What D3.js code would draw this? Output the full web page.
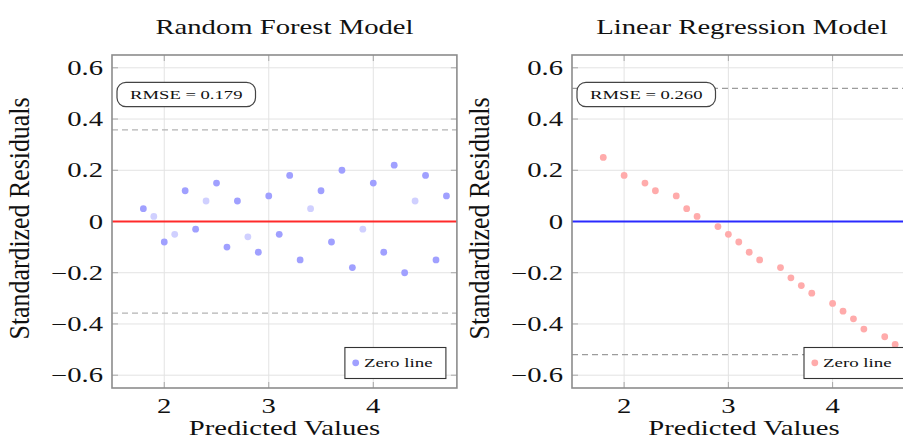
<!DOCTYPE html>
<html>
<head>
<meta charset="utf-8">
<script src="https://cdn.jsdelivr.net/npm/d3@7"></script>
<style>
html,body{margin:0;padding:0;background:#fff;}
svg text{font-family:"Liberation Serif","Times New Roman",serif;fill:#111;}
</style>
</head>
<body>
<svg id="chart" width="903" height="445"></svg>
<script>
// ---- data ----
const titles = ["Random Forest Model", "Linear Regression Model"];
const xValues = [1.8,1.9,2.0,2.1,2.2,2.3,2.4,2.5,2.6,2.7,2.8,2.9,3.0,3.1,3.2,3.3,3.4,3.5,3.6,3.7,3.8,3.9,4.0,4.1,4.2,4.3,4.4,4.5,4.6,4.7];
const rfResiduals = [0.05,0.02,-0.08,-0.05,0.12,-0.03,0.08,0.15,-0.10,0.08,-0.06,-0.12,0.10,-0.05,0.18,-0.15,0.05,0.12,-0.08,0.20,-0.18,-0.03,0.15,-0.12,0.22,-0.20,0.08,0.18,-0.15,0.10];
const rfFaint = [0,1,0,1,0,0,1,0,0,0,1,0,0,0,0,0,1,0,0,0,0,1,0,0,0,0,1,0,0,0];
const lrResiduals = [0.25,null,0.18,null,0.15,0.12,null,0.10,0.05,0.02,null,-0.02,-0.05,-0.08,-0.12,-0.15,null,-0.18,-0.22,-0.25,-0.28,null,-0.32,-0.35,-0.38,-0.42,null,-0.45,-0.48,-0.51];
const rmseValues = [0.179, 0.260];
const xTicks = [2,3,4];
const yTicks = [-0.6,-0.4,-0.2,0,0.2,0.4,0.6];
const legendLabel = "Zero line";
const xLabel = "Predicted Values";
const yLabel = "Standardized Residuals";

// ---- layout ----
const SX = 1.4; // horizontal text stretch of the reference
const panels = [
  {x0:112, x1:456.9, res:rfResiduals, faint:rfFaint, dot:"#a0a0ff", dotFaint:"#d0d0ff", zero:"#ff2a2a", dash:"#b4b4b4", titleY:34, titleDx:0},
  {x0:572, x1:916, res:lrResiduals, faint:null, dot:"#ffabab", dotFaint:"#ffabab", zero:"#2a2aff", dash:"#9c9c9c", titleY:33.5, titleDx:-2}
];
const y0 = 55, y1 = 388;
const svg = d3.select("#chart");

function stext(g, x, y, str, size, anchor){
  return g.append("text")
    .attr("transform", `translate(${x},${y}) scale(${SX},1)`)
    .attr("font-size", size)
    .attr("text-anchor", anchor)
    .text(str);
}
const fmt = v => v === 0 ? "0" : (v < 0 ? "\u2212" : "") + Math.abs(v).toFixed(1);

panels.forEach((p, pi) => {
  const x = d3.scaleLinear().domain([1.5, 4.8]).range([p.x0, p.x1]);
  const y = d3.scaleLinear().domain([-0.65, 0.65]).range([y1, y0]);
  const g = svg.append("g");
  const clipId = "clip" + pi;
  g.append("clipPath").attr("id", clipId).append("rect")
    .attr("x", p.x0).attr("y", y0).attr("width", p.x1 - p.x0).attr("height", y1 - y0);
  const inner = g.append("g").attr("clip-path", `url(#${clipId})`);

  // grid
  inner.selectAll(".gx").data(xTicks).enter().append("line")
    .attr("x1", d => x(d)).attr("x2", d => x(d)).attr("y1", y0).attr("y2", y1)
    .attr("stroke", "#e3e3e3").attr("stroke-width", 1);
  inner.selectAll(".gy").data(yTicks).enter().append("line")
    .attr("x1", p.x0).attr("x2", p.x1).attr("y1", d => y(d)).attr("y2", d => y(d))
    .attr("stroke", "#e3e3e3").attr("stroke-width", 1);
  // inner tick marks
  const tl = 6;
  yTicks.forEach(d => {
    inner.append("line").attr("x1", p.x0).attr("x2", p.x0 + tl).attr("y1", y(d)).attr("y2", y(d)).attr("stroke", "#a8a8a8");
    inner.append("line").attr("x1", p.x1 - tl).attr("x2", p.x1).attr("y1", y(d)).attr("y2", y(d)).attr("stroke", "#a8a8a8");
  });
  xTicks.forEach(d => {
    inner.append("line").attr("x1", x(d)).attr("x2", x(d)).attr("y1", y0).attr("y2", y0 + tl).attr("stroke", "#a8a8a8");
    inner.append("line").attr("x1", x(d)).attr("x2", x(d)).attr("y1", y1 - tl).attr("y2", y1).attr("stroke", "#a8a8a8");
  });

  // dashed +-2 RMSE lines
  const r = rmseValues[pi];
  [2 * r, -2 * r].forEach(v => {
    inner.append("line").attr("x1", p.x0).attr("x2", p.x1).attr("y1", y(v)).attr("y2", y(v))
      .attr("stroke", p.dash).attr("stroke-width", 1.2).attr("stroke-dasharray", "6,4");
  });
  // zero line
  inner.append("line").attr("x1", p.x0).attr("x2", p.x1).attr("y1", y(0)).attr("y2", y(0))
    .attr("stroke", p.zero).attr("stroke-width", 2);

  // points
  const pts = xValues.map((xv, i) => ({x: xv, y: p.res[i], f: p.faint ? p.faint[i] : 0}))
    .filter(d => d.y !== null);
  inner.selectAll(".pt").data(pts).enter().append("circle")
    .attr("cx", d => x(d.x)).attr("cy", d => y(d.y)).attr("r", 3.4)
    .attr("fill", d => d.f ? p.dotFaint : p.dot);

  // frame
  g.append("rect").attr("x", p.x0).attr("y", y0).attr("width", p.x1 - p.x0).attr("height", y1 - y0)
    .attr("fill", "none").attr("stroke", "#8c8c8c").attr("stroke-width", 1.6);

  // RMSE box
  const bx = p.x0 + 5, by = 82.3, bw = 138.5, bh = 24.4;
  g.append("rect").attr("x", bx).attr("y", by).attr("width", bw).attr("height", bh)
    .attr("rx", 9).attr("ry", 9).attr("fill", "#fff").attr("stroke", "#444").attr("stroke-width", 1.2);
  stext(g, bx + bw / 2, by + bh / 2 + 4.5, "RMSE = " + r.toFixed(3), 13.3, "middle");

  // legend
  const lx = p.x1 - 112, ly = 347.5, lw = 101, lh = 31;
  g.append("rect").attr("x", lx).attr("y", ly).attr("width", lw).attr("height", lh)
    .attr("fill", "#fff").attr("stroke", "#333").attr("stroke-width", 1.1);
  g.append("circle").attr("cx", lx + 10.8).attr("cy", ly + 15.3).attr("r", 3.4).attr("fill", p.dot);
  stext(g, lx + 19, ly + 19.5, legendLabel, 13.5, "start");

  // tick labels
  yTicks.forEach(d => stext(g, p.x0 - 9, y(d) + 7, fmt(d), 20.5, "end"));
  xTicks.forEach(d => stext(g, x(d), 413, String(d), 20.5, "middle"));

  // axis labels and title
  const cx = (p.x0 + p.x1) / 2;
  stext(g, cx, 435, xLabel, 20.5, "middle");
  stext(g, cx + p.titleDx, p.titleY, titles[pi], 20.5, "middle");
  g.append("text")
    .attr("transform", `translate(${p.x0 - 83},${(y0 + y1) / 2 - 3}) scale(${SX},1) rotate(-90)`)
    .attr("font-size", 21.5).attr("text-anchor", "middle")
    .attr("textLength", 242).attr("lengthAdjust", "spacingAndGlyphs")
    .text(yLabel);
});
</script>
</body>
</html>
